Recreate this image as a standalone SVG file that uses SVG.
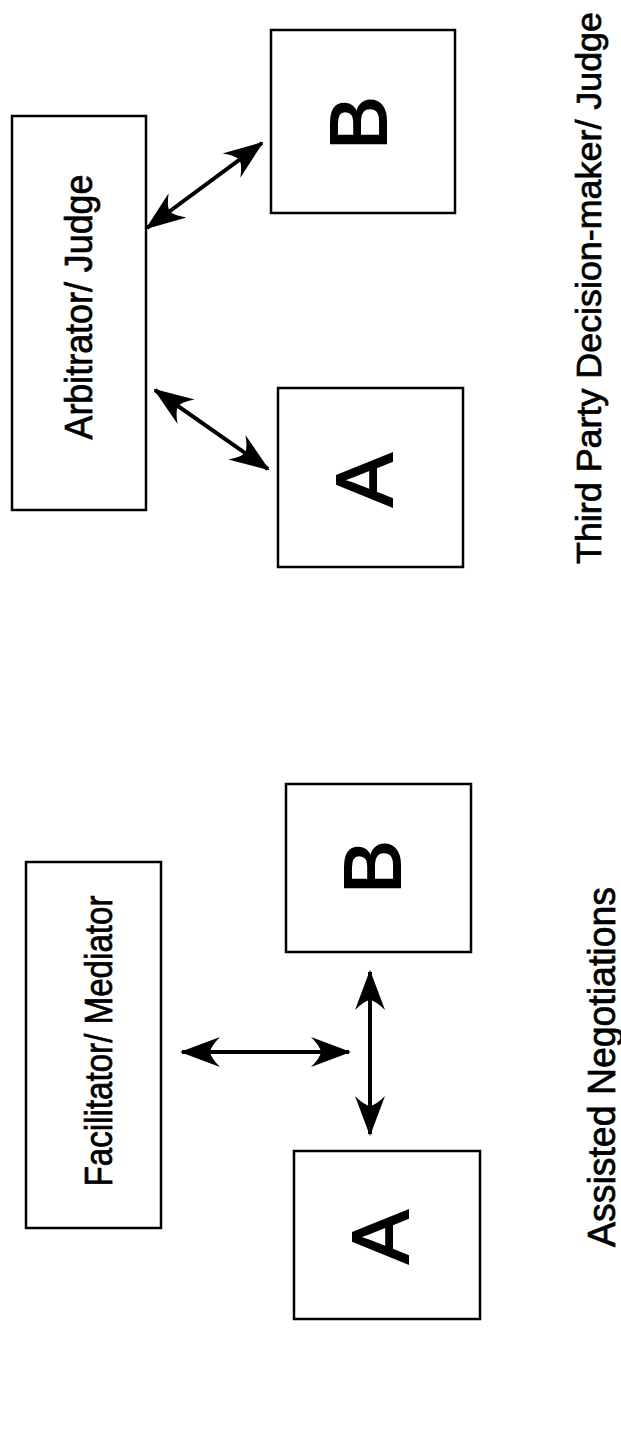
<svg xmlns="http://www.w3.org/2000/svg" width="621" height="1455" viewBox="0 0 621 1455">
<style>
.box{fill:#fff;stroke:#000;stroke-width:2.5}
.lbl{font-family:"Liberation Sans",Arial,sans-serif;fill:#000;stroke:#000;stroke-width:0.7;text-anchor:middle}
.big{font-size:80px;stroke-width:2}
.conn{stroke:#000;stroke-width:4;fill:none;marker-start:url(#ah);marker-end:url(#ah)}
</style>
<defs>
<marker id="ah" viewBox="0 0 40 32" refX="38" refY="16" markerWidth="40" markerHeight="32" markerUnits="userSpaceOnUse" orient="auto-start-reverse">
<path d="M40,16 L0,1 Q9,10 10,16 Q9,22 0,31 Z" fill="#000"/>
</marker>
</defs>
<rect width="621" height="1455" fill="#fff"/>
<g id="arbitrator">
<rect class="box" x="12" y="116" width="134" height="394"/>
<text class="lbl" font-size="38" transform="translate(92,307) rotate(-90)" textLength="265" lengthAdjust="spacingAndGlyphs">Arbitrator/ Judge</text>
</g>
<g id="top-b">
<rect class="box" x="271" y="30" width="184" height="183"/>
<text class="lbl big" transform="translate(386,123) rotate(-90)">B</text>
</g>
<g id="top-a">
<rect class="box" x="278" y="388" width="185" height="179"/>
<text class="lbl big" transform="translate(392,480) rotate(-90)">A</text>
</g>
<g id="top-label">
<text class="lbl" font-size="35" transform="translate(601,288) rotate(-90)" textLength="552" lengthAdjust="spacingAndGlyphs">Third Party Decision-maker/ Judge</text>
</g>
<g id="facilitator">
<rect class="box" x="26" y="862" width="135" height="366"/>
<text class="lbl" font-size="39" transform="translate(112,1041) rotate(-90)" textLength="291" lengthAdjust="spacingAndGlyphs">Facilitator/ Mediator</text>
</g>
<g id="bottom-b">
<rect class="box" x="286" y="784" width="185" height="168"/>
<text class="lbl big" transform="translate(400,867) rotate(-90)">B</text>
</g>
<g id="bottom-a">
<rect class="box" x="294" y="1151" width="186" height="168"/>
<text class="lbl big" transform="translate(408,1237) rotate(-90)">A</text>
</g>
<g id="bottom-label">
<text class="lbl" font-size="39" transform="translate(615,1067) rotate(-90)" textLength="360" lengthAdjust="spacingAndGlyphs">Assisted Negotiations</text>
</g>
<g id="connectors">
<line class="conn" x1="147" y1="228" x2="262" y2="143"/>
<line class="conn" x1="155" y1="390" x2="268" y2="469"/>
<line class="conn" x1="182" y1="1052" x2="349" y2="1052"/>
<line class="conn" x1="370" y1="972" x2="370" y2="1134"/>
</g>
</svg>
